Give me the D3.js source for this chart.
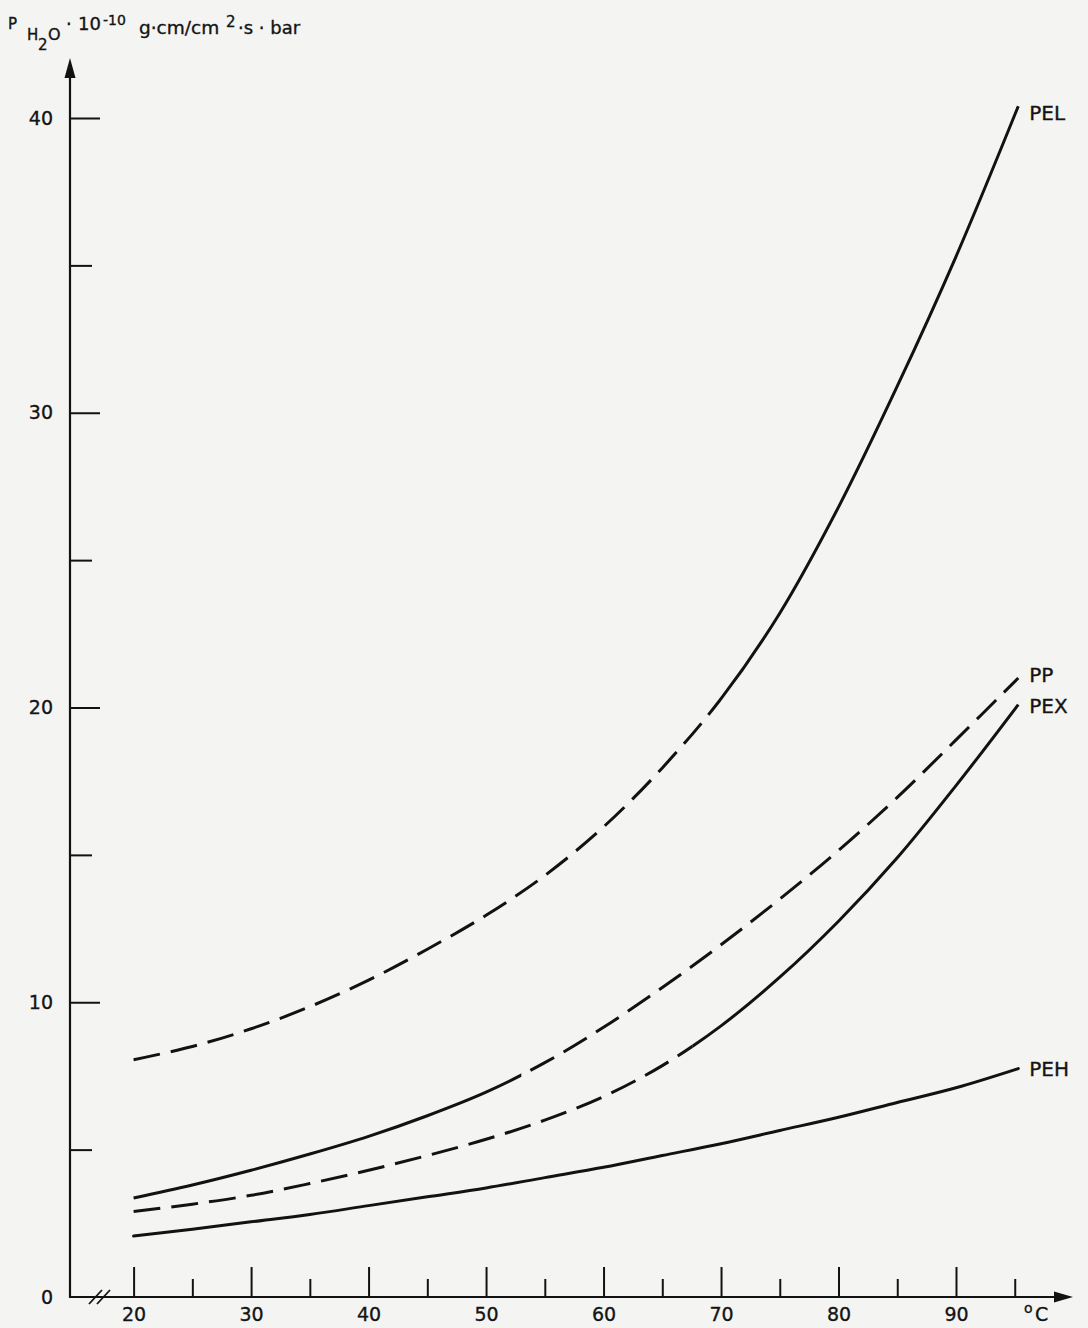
<!DOCTYPE html>
<html>
<head>
<meta charset="utf-8">
<script src="https://cdn.jsdelivr.net/npm/d3@7"></script>
<style>
  html, body { margin: 0; padding: 0; background: #f4f4f2; }
  svg { display: block; }
  text { font-family: "DejaVu Sans", sans-serif; fill: #141414; stroke: #141414; stroke-width: 0.35px; }
</style>
</head>
<body>
<svg id="chart" width="1088" height="1328"></svg>
<script>
// ---- data ----
const temps = [20, 25, 30, 35, 40, 45, 50, 55, 60, 65, 70, 75, 80, 85, 90, 95.3];
const PEL = [8.05, 8.5, 9.1, 9.85, 10.75, 11.8, 12.95, 14.3, 15.95, 17.95, 20.3, 23.2, 26.8, 30.9, 35.3, 40.4];
const PP  = [3.36, 3.8, 4.3, 4.85, 5.45, 6.15, 6.95, 7.95, 9.15, 10.5, 11.95, 13.5, 15.15, 16.95, 18.9, 21.0];
const PEX = [2.9, 3.15, 3.45, 3.85, 4.3, 4.8, 5.35, 6.0, 6.8, 7.85, 9.2, 10.85, 12.75, 14.9, 17.35, 20.1];
const PEH = [2.07, 2.3, 2.55, 2.8, 3.1, 3.4, 3.7, 4.05, 4.4, 4.8, 5.2, 5.65, 6.1, 6.6, 7.1, 7.75];
const seriesNames = ["PEL", "PP", "PEX", "PEH"];
// temperature where the line style changes, and which side is dashed
const switchTemp = [70, 53, 67.6, null];
const dashedSide = ["low", "high", "low", null];
const xMajorTicks = [20, 30, 40, 50, 60, 70, 80, 90];
const xMinorTicks = [25, 35, 45, 55, 65, 75, 85, 95];
const yMajorTicks = [0, 10, 20, 30, 40];
const yMinorTicks = [5, 15, 25, 35];

const seriesValues = [PEL, PP, PEX, PEH];

// ---- layout ----
const svg = d3.select("#chart");
const x = d3.scaleLinear().domain([20, 90]).range([133.6, 956]);
const y = d3.scaleLinear().domain([0, 40]).range([1297, 118]);
const axisX0 = 70, axisY0 = y(0);
const ink = "#121212";
const FONT = "'DejaVu Sans', sans-serif";

// x axis line with arrow
svg.append("line").attr("x1", axisX0 - 1).attr("x2", 1056).attr("y1", axisY0).attr("y2", axisY0)
  .attr("stroke", ink).attr("stroke-width", 2.2);
svg.append("path").attr("d", `M1073,${axisY0} L1054,${axisY0 - 5.5} L1054,${axisY0 + 5.5} Z`).attr("fill", ink);
// y axis line with arrow
svg.append("line").attr("x1", axisX0).attr("x2", axisX0).attr("y1", axisY0 + 1).attr("y2", 74)
  .attr("stroke", ink).attr("stroke-width", 2.2);
svg.append("path").attr("d", `M${axisX0},58 L${axisX0 - 5.5},78 L${axisX0 + 5.5},78 Z`).attr("fill", ink);

// axis break marks
[89, 97].forEach(bx => {
  svg.append("line").attr("x1", bx).attr("y1", axisY0 + 7).attr("x2", bx + 13).attr("y2", axisY0 - 7)
    .attr("stroke", ink).attr("stroke-width", 1.8);
});

// x axis ticks
const gxMajor = svg.append("g").attr("transform", `translate(0,${axisY0})`)
  .call(d3.axisBottom(x).tickValues(xMajorTicks).tickSize(-30).tickPadding(11).tickFormat(d3.format("d")));
const gxMinor = svg.append("g").attr("transform", `translate(0,${axisY0})`)
  .call(d3.axisBottom(x).tickValues(xMinorTicks).tickSize(-18).tickFormat(""));
// y axis ticks
const gyMajor = svg.append("g").attr("transform", `translate(${axisX0},0)`)
  .call(d3.axisLeft(y).tickValues(yMajorTicks).tickSize(-30).tickPadding(17).tickFormat(d3.format("d")));
const gyMinor = svg.append("g").attr("transform", `translate(${axisX0},0)`)
  .call(d3.axisLeft(y).tickValues(yMinorTicks).tickSize(-22).tickFormat(""));

[gxMajor, gxMinor, gyMajor, gyMinor].forEach(g => {
  g.select(".domain").remove();
  g.selectAll(".tick line").attr("stroke", ink).attr("stroke-width", 2);
  g.selectAll(".tick text").attr("fill", ink).style("font-size", "19px").style("font-family", FONT);
});
gyMajor.selectAll(".tick line").filter(d => d === 0).remove();

// °C unit label
const unit = svg.append("text").attr("x", 1024).attr("y", 1321).style("font-size", "19px");
unit.append("tspan").attr("x", 1024).attr("y", 1313).text("o").style("font-size", "14px");
unit.append("tspan").attr("x", 1035).attr("y", 1321).text("C");

// y axis title
const t = svg.append("text").attr("x", 9).attr("y", 29).style("font-size", "18px");
t.append("tspan").attr("x", 8).attr("y", 29).text("P").style("font-size", "15px");
t.append("tspan").attr("x", 27).attr("y", 40).text("H").style("font-size", "15px");
t.append("tspan").attr("x", 38).attr("y", 50).text("2").style("font-size", "15px");
t.append("tspan").attr("x", 48).attr("y", 40).text("O").style("font-size", "16px");
t.append("tspan").attr("x", 66).attr("y", 30).text("·").style("font-size", "18px");
t.append("tspan").attr("x", 78).attr("y", 30).text("10").style("font-size", "18px");
t.append("tspan").attr("x", 103).attr("y", 25).text("-10").style("font-size", "14px");
t.append("tspan").attr("x", 139).attr("y", 34).text("g·cm/cm").style("font-size", "18.5px");
t.append("tspan").attr("x", 226).attr("y", 27).text("2").style("font-size", "15px");
t.append("tspan").attr("x", 238).attr("y", 34).text("·s · bar").style("font-size", "18px");

// ---- curves ----
const line = d3.line().x(d => x(d[0])).y(d => y(d[1])).curve(d3.curveCatmullRom.alpha(0.5));
const defs = svg.append("defs");

seriesValues.forEach((vals, i) => {
  const pts = temps.map((tv, j) => [tv, vals[j]]);
  const d = line(pts);
  const sw = switchTemp[i];
  if (sw === null) {
    svg.append("path").attr("d", d).attr("fill", "none").attr("stroke", ink)
      .attr("stroke-width", 3).attr("stroke-linecap", "round");
  } else {
    const xs = x(sw);
    defs.append("clipPath").attr("id", `lo${i}`).append("rect")
      .attr("x", 0).attr("y", 0).attr("width", xs).attr("height", 1328);
    defs.append("clipPath").attr("id", `hi${i}`).append("rect")
      .attr("x", xs).attr("y", 0).attr("width", 1088 - xs).attr("height", 1328);
    const dashedClip = dashedSide[i] === "low" ? `lo${i}` : `hi${i}`;
    const solidClip = dashedSide[i] === "low" ? `hi${i}` : `lo${i}`;
    svg.append("path").attr("d", d).attr("fill", "none").attr("stroke", ink)
      .attr("stroke-width", 3).attr("stroke-dasharray", "27 11")
      .attr("clip-path", `url(#${dashedClip})`);
    svg.append("path").attr("d", d).attr("fill", "none").attr("stroke", ink)
      .attr("stroke-width", 3).attr("clip-path", `url(#${solidClip})`);
  }
  const last = pts[pts.length - 1];
  const off = i === 0 ? 7 : (i === 1 ? -3 : (i === 2 ? 1 : 0));
  svg.append("text").attr("x", x(last[0]) + 11).attr("y", y(last[1]) + off)
    .attr("dominant-baseline", "central").style("font-size", "20px").text(seriesNames[i]);
});
</script>
</body>
</html>
